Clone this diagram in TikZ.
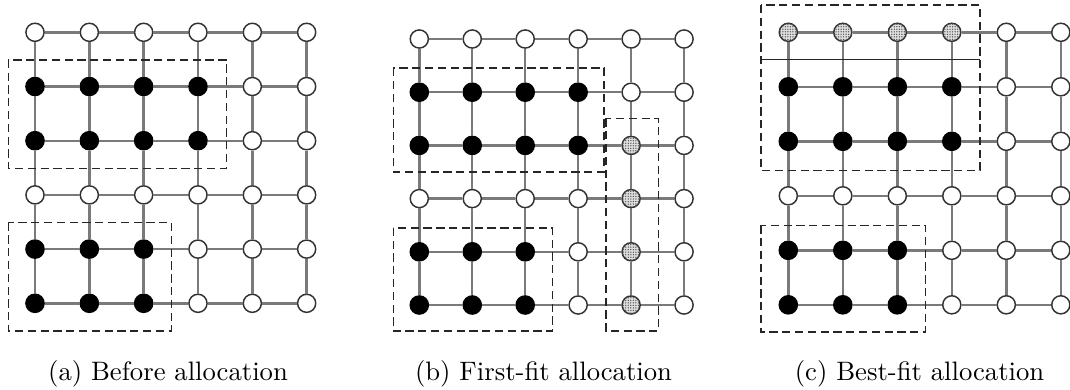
\documentclass[tikz,border=0pt]{standalone}
\usetikzlibrary{calc,patterns.meta}

% fine dot texture for nodes that are being allocated
\tikzdeclarepattern{
  name=finedots,
  type=uncolored,
  bounding box={(-0.5pt,-0.5pt) and (0.5pt,0.5pt)},
  tile size={(0.95pt,0.95pt)},
  code={\fill (0pt,0pt) circle (0.28pt);}
}

% kind of processor at row #2, column #3 of mesh #1
\newcommand\cellkind[3]{%
  \def\kind{free}%
  \ifnum#2>0 \ifnum#2<3 \ifnum#3<4 \def\kind{busy}\fi\fi\fi
  \ifnum#2>3 \ifnum#3<3 \def\kind{busy}\fi\fi
  \if b#1\ifnum#3=4 \ifnum#2>1 \def\kind{pend}\fi\fi\fi
  \if c#1\ifnum#2=0 \ifnum#3<4 \def\kind{pend}\fi\fi\fi
}

% 6x6 mesh: name prefix, origin x, origin y, step x, step y
\newcommand\meshgrid[5]{%
  \foreach \r in {0,...,5}{
    \foreach \c in {0,...,5}{
      \cellkind{#1}{\r}{\c}
      \node[\kind] (#1-\r-\c) at ({#2+\c*#4},{#3+\r*#5}) {};
    }
  }
  \foreach \r in {0,...,5}{
    \foreach \c [count=\n] in {0,...,4}{
      \draw[link] (#1-\r-\c) -- (#1-\r-\n);
      \draw[link] (#1-\c-\r) -- (#1-\n-\r);
    }
  }
}

\begin{document}
\begin{tikzpicture}[x=0.375pt,y=-0.375pt,
  vtx/.style={circle,inner sep=0pt,minimum size=6.8pt},
  free/.style={vtx,draw=black!80,line width=0.55pt,fill=white},
  busy/.style={vtx,draw=black,line width=0.55pt,fill=black},
  pend/.style={vtx,draw=black!80,line width=0.55pt,fill=gray!25,
               postaction={pattern=finedots,pattern color=black!65}},
  link/.style={draw=black!52,line width=0.9pt},
  region/.style={draw=black!85,line width=0.6pt,dash pattern=on 3.1pt off 1.7pt},
  split/.style={draw=black!85,line width=0.6pt}]
\useasboundingbox (0,0) rectangle (1070,389);

% (a) before allocation
\meshgrid{a}{35}{32.3}{54.33}{54.2}
\draw[region] ($(a-1-0)+(-26.7,-26.7)$) rectangle ($(a-2-3)+(28.4,27.7)$);
\draw[region] ($(a-4-0)+(-26.7,-26.6)$) rectangle ($(a-5-2)+(27.7,27.7)$);

% (b) first-fit allocation
\meshgrid{b}{419.3}{39}{52.95}{53.2}
\draw[region] ($(b-1-0)+(-26,-24)$) rectangle ($(b-2-3)+(26,26.3)$);
\draw[region] ($(b-4-0)+(-26,-24)$) rectangle ($(b-5-2)+(27.3,26)$);
\draw[region] ($(b-2-4)+(-25.3,-27)$) rectangle ($(b-5-4)+(27.3,26)$);

% (c) best-fit allocation
\meshgrid{c}{788.3}{32.3}{54.5}{54.5}
\draw[region] ($(c-0-0)+(-27.3,-27.3)$) rectangle ($(c-2-3)+(28.3,29)$);
\draw[region] ($(c-4-0)+(-27.3,-25)$) rectangle ($(c-5-2)+(28.3,27.3)$);
\coordinate (cl) at ($(c-0-0)!0.5!(c-1-0)+(-27.3,0)$);
\coordinate (cr) at ($(c-0-3)!0.5!(c-1-3)+(28.3,0)$);
\draw[split] (cl) -- (cr);

% captions
\node[anchor=base,inner sep=0pt] (capa) at (168,380) {(a) Before allocation};
\node[anchor=base,inner sep=0pt] (capb) at (543.5,380) {(b) First-fit allocation};
\node[anchor=base,inner sep=0pt] (capc) at (919.5,380) {(c) Best-fit allocation};
\end{tikzpicture}
\end{document}
